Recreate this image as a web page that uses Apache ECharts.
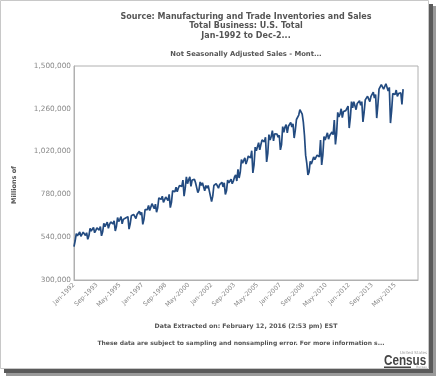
<!DOCTYPE html>
<html><head><meta charset="utf-8">
<script src="https://cdn.jsdelivr.net/npm/echarts@6/dist/echarts.min.js"></script>
<style>html,body{margin:0;padding:0;background:#fff}#c{width:439px;height:378px}</style>
</head><body><div id="c"></div>
<script>
var monthNames = ['Jan','Feb','Mar','Apr','May','Jun','Jul','Aug','Sep','Oct','Nov','Dec'];
var firstYear = 1992;
var axisEndYear = 2017; // axis runs to Jan-2017
var yTicks = [300000, 540000, 780000, 1020000, 1260000, 1500000];
// Monthly sales, millions of dollars, Jan-1992 .. Dec-2015
var sales = [
  487000,520000,560000,548000,555000,570000,545000,552000,568000,575000,550000,565000, // 1992
  528000,548000,590000,575000,575000,595000,565000,578000,592000,597000,580000,600000, // 1993
  548000,570000,618000,600000,605000,625000,590000,612000,625000,628000,615000,632000, // 1994
  575000,600000,650000,628000,640000,655000,615000,640000,650000,648000,638000,655000, // 1995
  585000,615000,660000,655000,668000,672000,645000,668000,675000,685000,665000,680000, // 1996
  612000,640000,695000,690000,695000,718000,690000,700000,728000,735000,700000,725000, // 1997
  680000,705000,760000,750000,752000,770000,735000,745000,765000,770000,745000,780000, // 1998
  706000,735000,800000,790000,795000,820000,795000,815000,830000,835000,825000,860000, // 1999
  770000,815000,878000,840000,862000,878000,825000,860000,870000,865000,845000,850000, // 2000
  790000,805000,850000,830000,845000,840000,800000,830000,815000,830000,800000,810000, // 2001
  740000,770000,830000,830000,840000,840000,815000,835000,838000,848000,822000,845000, // 2002
  780000,800000,860000,845000,850000,865000,840000,855000,878000,890000,855000,920000, // 2003
  872000,905000,975000,955000,960000,985000,950000,970000,995000,1005000,985000,1025000, // 2004
  900000,945000,1045000,1025000,1035000,1070000,1030000,1060000,1085000,1090000,1075000,1100000, // 2005
  962000,1010000,1115000,1085000,1105000,1138000,1080000,1120000,1128000,1118000,1100000,1112000, // 2006
  1030000,1060000,1160000,1128000,1158000,1172000,1125000,1162000,1168000,1184000,1158000,1176000, // 2007
  1096000,1140000,1200000,1200000,1225000,1255000,1264000,1230000,1185000,1110000,1000000,955000, // 2008
  889000,905000,965000,950000,960000,990000,975000,985000,1000000,1010000,990000,1085000, // 2009
  945000,1000000,1105000,1085000,1095000,1125000,1090000,1110000,1120000,1130000,1115000,1197000, // 2010
  1060000,1120000,1240000,1215000,1230000,1260000,1210000,1245000,1255000,1250000,1240000,1275000, // 2011
  1152000,1210000,1300000,1265000,1300000,1290000,1255000,1290000,1285000,1305000,1280000,1300000, // 2012
  1186000,1240000,1310000,1300000,1330000,1320000,1300000,1330000,1320000,1354000,1320000,1340000, // 2013
  1208000,1280000,1370000,1375000,1395000,1390000,1370000,1385000,1400000,1405000,1360000,1380000, // 2014
  1180000,1250000,1345000,1335000,1340000,1365000,1330000,1345000,1340000,1350000,1285000,1370000  // 2015
];
var categories = [];
for (var y = firstYear; y < axisEndYear; y++) {
  for (var m = 0; m < 12; m++) categories.push(monthNames[m] + '-' + y);
}
categories.push('Jan-' + axisEndYear);
var labelStep = 20, lastLabelIndex = 280;

function fmt(v){ return String(v).replace(/\B(?=(\d{3})+(?!\d))/g, ','); }

var chart = echarts.init(document.getElementById('c'), null, {renderer:'canvas'});
var ff = 'DejaVu Sans, Verdana, sans-serif';
chart.setOption({
  animation: false,
  backgroundColor: '#fff',
  title: [
    {text: 'Source: Manufacturing and Trade Inventories and Sales\nTotal Business: U.S. Total\nJan-1992 to Dec-2...',
     left: 241, top: 7, textAlign: 'center',
     textStyle: {fontFamily: ff, fontSize: 8, fontWeight: 'bold', color: '#555', lineHeight: 9.6}},
    {text: 'Not Seasonally Adjusted Sales - Mont...', left: 241, top: 46, textAlign: 'center',
     textStyle: {fontFamily: ff, fontSize: 6.8, fontWeight: 'bold', color: '#555'}}
  ],
  grid: {left: 74, right: 21, top: 66, bottom: 98, show: true, borderColor: '#b0b0b0', borderWidth: 1, containLabel: false},
  xAxis: {
    type: 'category', data: categories, boundaryGap: false,
    axisLine: {lineStyle: {color: '#b0b0b0'}},
    axisTick: {show: false},
    axisLabel: {interval: function(i){ return i % labelStep === 0 && i <= lastLabelIndex; },
      rotate: 45, fontFamily: ff, fontSize: 6.3, color: '#888', margin: 4},
    splitLine: {show: false}
  },
  yAxis: {
    type: 'value', min: yTicks[0], max: yTicks[yTicks.length-1], interval: yTicks[1]-yTicks[0],
    axisLine: {show: true, lineStyle: {color: '#b0b0b0'}},
    axisTick: {show: false},
    axisLabel: {fontFamily: ff, fontSize: 7.3, color: '#888', margin: 3, formatter: fmt},
    splitLine: {show: false}
  },
  series: [{
    type: 'line', data: sales, showSymbol: false, symbol: 'none',
    lineStyle: {color: '#234b80', width: 1.7}
  }],
  graphic: [
    {type: 'text', x: 14, y: 185, rotation: Math.PI/2,
     style: {text: 'Millions of', fontFamily: ff, fontSize: 6.5, fontWeight: 'bold', fill: '#555', align: 'center', verticalAlign: 'middle'}},
    {type: 'text', x: 246, y: 326, style: {text: 'Data Extracted on: February 12, 2016 (2:53 pm) EST', fontFamily: ff, fontSize: 6.2, fontWeight: 'bold', fill: '#555', align: 'center', verticalAlign: 'middle'}},
    {type: 'text', x: 241, y: 343, style: {text: 'These data are subject to sampling and nonsampling error. For more information s...', fontFamily: ff, fontSize: 6, fontWeight: 'bold', fill: '#555', align: 'center', verticalAlign: 'middle'}},
    {type: 'text', x: 427, y: 353, style: {text: 'United States', fontFamily: ff, fontSize: 4, fill: '#999', align: 'right', verticalAlign: 'middle'}},
    {type: 'text', x: 384, y: 361, scaleX: 0.78, style: {text: 'Census', fontFamily: 'Liberation Sans, Arial, sans-serif', fontSize: 15, fontWeight: 'bold', fill: '#444', align: 'left', verticalAlign: 'middle'}},
    {type: 'rect', shape: {x: 384, y: 366.5, width: 27, height: 1.5}, style: {fill: '#444'}},
    {type: 'text', x: 427, y: 367.5, style: {text: 'Bureau', fontFamily: ff, fontSize: 3, fill: '#999', align: 'right', verticalAlign: 'middle'}},
    {type: 'rect', shape: {x: 0.5, y: 0.5, width: 428, height: 368}, style: {fill: 'none', stroke: '#c8c8c8', lineWidth: 1}},
    {type: 'rect', shape: {x: 429, y: 4, width: 4, height: 369}, style: {fill: '#5a5a5a'}},
    {type: 'rect', shape: {x: 433, y: 6, width: 3, height: 369}, style: {fill: '#9a9a9a'}},
    {type: 'rect', shape: {x: 4, y: 369, width: 429, height: 4}, style: {fill: '#5a5a5a'}},
    {type: 'rect', shape: {x: 6, y: 373, width: 430, height: 3}, style: {fill: '#9a9a9a'}}
  ]
});
</script></body></html>
